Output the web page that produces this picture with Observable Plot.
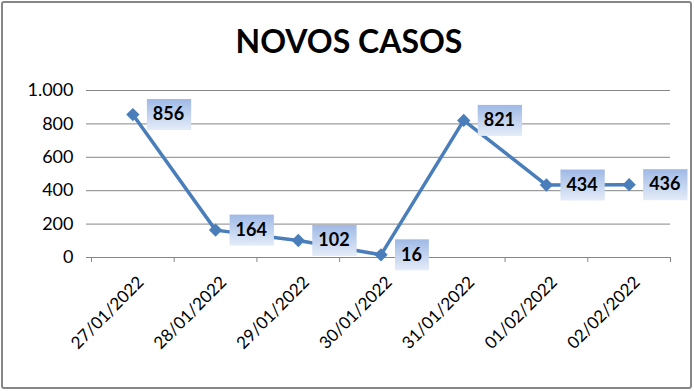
<!DOCTYPE html>
<html><head><meta charset="utf-8">
<script src="https://cdn.jsdelivr.net/npm/d3@7"></script>
<script src="https://cdn.jsdelivr.net/npm/@observablehq/plot@0.6"></script>
<style>
body{margin:0;background:#fff}
#chart{position:relative;width:694px;height:391px;overflow:hidden;background:#fff}
#frame{position:absolute;left:1px;top:1px;width:687px;height:384px;border:2px solid #868686;border-radius:3px;pointer-events:none}
</style></head><body><div id="chart"><div id="frame"></div></div>
<script>
const title = "NOVOS CASOS";
const dates = ["27/01/2022","28/01/2022","29/01/2022","30/01/2022","31/01/2022","01/02/2022","02/02/2022"];
const cases = [856, 164, 102, 16, 821, 434, 436];
const yTicks = [0, 200, 400, 600, 800, 1000];

const idx = dates.map((d, i) => i);
const boundaries = d3.range(dates.length + 1).map(i => i - 0.5);
const data = dates.map((d, i) => ({i, date: d, value: cases[i]}));
const fmt = d3.formatLocale({decimal: ",", thousands: ".", grouping: [3], currency: ["R$", ""]}).format(",d");

const plot = Plot.plot({
  width: 694, height: 391,
  marginLeft: 91, marginRight: 24, marginTop: 90, marginBottom: 134,
  style: {fontFamily: "Lato, sans-serif", fontSize: "18px", background: "transparent", color: "#000", overflow: "visible"},
  x: {type: "linear", domain: [-0.5, dates.length - 0.5]},
  y: {domain: [0, 1000]},
  marks: [
    Plot.gridY(yTicks, {stroke: "#868686", strokeOpacity: 1}),
    Plot.axisY(yTicks, {tickSize: 5, tickPadding: 13, tickFormat: fmt, label: null, stroke: "#868686", fill: "#000"}),
    Plot.axisX(boundaries, {tickSize: 5, tickFormat: () => "", label: null, stroke: "#868686"}),
    Plot.axisX(idx, {tickSize: 0, tickPadding: 22, tickRotate: -45, tickFormat: i => dates[i], label: null, fill: "#000", fontSize: 17, dx: 8}),
    Plot.line(data, {x: "i", y: "value", stroke: "#4a7ebb", strokeWidth: 3.5}),
    Plot.dot(data, {x: "i", y: "value", symbol: "diamond2", r: 6, fill: "#4a7ebb"}),
    Plot.text(data, {x: "i", y: "value", text: d => fmt(d.value), textAnchor: "start", dx: 20, fontWeight: "bold", fontSize: 18, fill: "#000"}),
    Plot.text([title], {frameAnchor: "top", text: d => d, fontSize: 32, fontWeight: "bold", lineAnchor: "top", dy: -60, dx: -32, fill: "#000"})
  ]
});
document.getElementById("chart").prepend(plot);

// gradient boxes behind data labels
const ns = "http://www.w3.org/2000/svg";
const defs = document.createElementNS(ns, "defs");
const grad = document.createElementNS(ns, "linearGradient");
grad.setAttribute("id", "lblGrad");
grad.setAttribute("x1", "0"); grad.setAttribute("y1", "0");
grad.setAttribute("x2", "0"); grad.setAttribute("y2", "1");
[["0", "#9fb9e5"], ["1", "#e4ecf8"]].forEach(([o, c]) => {
  const s = document.createElementNS(ns, "stop");
  s.setAttribute("offset", o); s.setAttribute("stop-color", c);
  grad.appendChild(s);
});
defs.appendChild(grad);
plot.insertBefore(defs, plot.firstChild);

const labelGroup = plot.querySelectorAll('g[aria-label="text"]')[0];
Array.from(labelGroup.querySelectorAll("text")).forEach(t => {
  const bb = t.getBBox();
  const r = document.createElementNS(ns, "rect");
  r.setAttribute("x", bb.x - 6);
  r.setAttribute("y", -15.5);
  r.setAttribute("width", bb.width + 13);
  r.setAttribute("height", 31);
  r.setAttribute("fill", "url(#lblGrad)");
  if (t.getAttribute("transform")) r.setAttribute("transform", t.getAttribute("transform"));
  labelGroup.insertBefore(r, t);
});
</script>
</body></html>
